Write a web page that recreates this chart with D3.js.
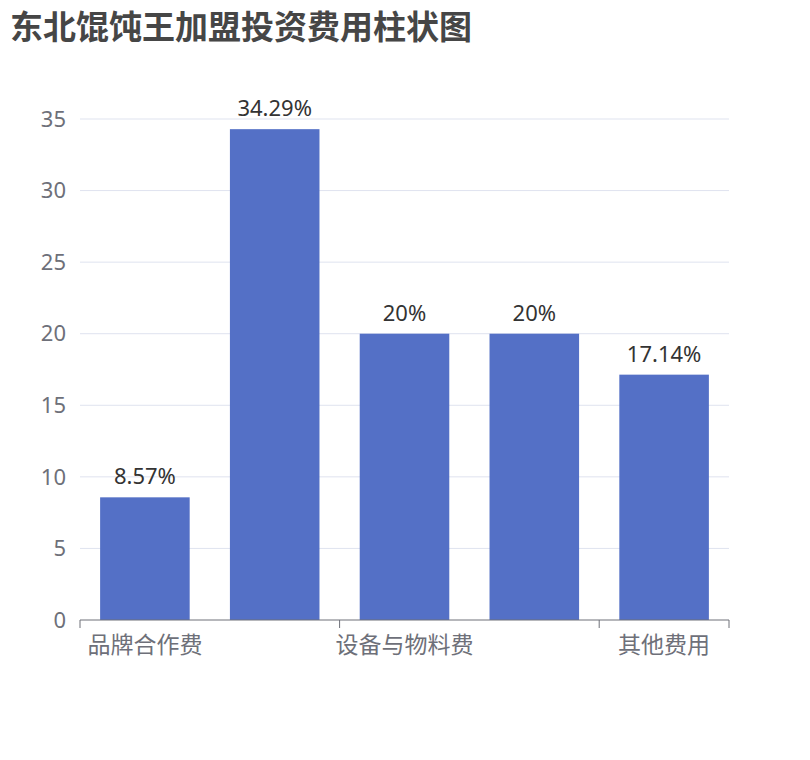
<!DOCTYPE html>
<html><head><meta charset="utf-8">
<script src="https://cdn.jsdelivr.net/npm/d3@7/dist/d3.min.js"></script>
<style>body{margin:0;background:#fff}</style></head>
<body><svg id="c" width="810" height="760"></svg>
<script>
const categories = ["品牌合作费","店面装修费","设备与物料费","人员工资","其他费用"];
const values = [8.57, 34.29, 20, 20, 17.14];
const labels = ["8.57%","34.29%","20%","20%","17.14%"];
const yTicks = [0,5,10,15,20,25,30,35];

const svg = d3.select("#c");
const font = "'Noto Sans','Noto Sans CJK SC',sans-serif";
const L=80,R=729,T=119,B=620;
const x = d3.scaleBand().domain(categories).range([L,R]).paddingInner(0.31).paddingOuter(0.155);
const y = d3.scaleLinear().domain([0,35]).range([B,T]);

svg.append("text").attr("x",10).attr("y",39).attr("font-family",font).attr("font-weight","bold")
  .attr("font-size",33).attr("fill","#464646").text("东北馄饨王加盟投资费用柱状图");

svg.selectAll(".g").data(yTicks.filter(d=>d>0)).join("line")
  .attr("x1",L).attr("x2",R).attr("y1",d=>y(d)).attr("y2",d=>y(d)).attr("stroke","#dfe3ef");
svg.selectAll(".yl").data(yTicks).join("text")
  .attr("x",L-14).attr("y",d=>y(d)).attr("dy","0.35em").attr("text-anchor","end")
  .attr("font-family",font).attr("font-size",22).attr("fill","#6e7079").text(d=>d);

svg.selectAll("rect").data(values).join("rect")
  .attr("x",(d,i)=>x(categories[i])).attr("width",x.bandwidth())
  .attr("y",d=>y(d)).attr("height",d=>B-y(d)).attr("fill","#5470c6");
svg.selectAll(".vl").data(values).join("text")
  .attr("x",(d,i)=>x(categories[i])+x.bandwidth()/2).attr("y",d=>y(d)-13)
  .attr("text-anchor","middle").attr("font-family",font).attr("font-size",22).attr("fill","#333")
  .text((d,i)=>labels[i]);

svg.append("line").attr("x1",L).attr("x2",R).attr("y1",B).attr("y2",B).attr("stroke","#6e7079");
const step = x.step();
[0,2,4,5].forEach(k=>{
  const xx = L + k*step;
  svg.append("line").attr("x1",xx).attr("x2",xx).attr("y1",B).attr("y2",B+8).attr("stroke","#6e7079");
});
categories.forEach((c,i)=>{
  if(i%2) return;
  svg.append("text").attr("x",x(c)+x.bandwidth()/2).attr("y",B+33).attr("text-anchor","middle")
    .attr("font-family",font).attr("font-size",23).attr("fill","#6e7079").text(c);
});
</script></body></html>
